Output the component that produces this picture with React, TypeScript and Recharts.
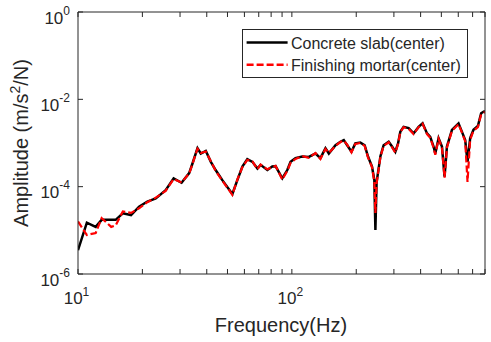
import { LineChart, Line, XAxis, YAxis, Legend, Label } from 'recharts';

// frequency (Hz) of the traced points
const freq = [
  10, 11, 12.1, 12.9, 14.3, 15, 16.2, 17.7, 19.3, 21.1, 23.1, 25.7, 28, 30.5, 33.1, 34.3,
  36.2, 37.5, 39.6, 41.8, 44, 47.3, 52.7, 55.6, 58.7, 61.9, 65.4, 69, 71.4, 76.8, 81, 83.9,
  90.2, 95.2, 98.6, 104, 111.8, 120, 129, 136, 143.6, 148.9, 160, 168.7, 174.9, 181.4, 190,
  198, 209, 219, 227, 237, 243, 245.8, 249, 259.5, 268.6, 283.6, 294, 304.6, 313.7, 321.5,
  333, 351.6, 370.8, 391.4, 408.5, 428.5, 443.6, 459.8, 468.4, 485.3, 503.3, 517.6, 531,
  560.5, 601.6, 623.7, 646.4, 662.7, 682, 706.6, 741, 767.4, 786.5, 800,
];

// Concrete slab(center)
const slab = [
  3.5e-6, 1.5e-5, 1.2e-5, 1.74e-5, 1.74e-5, 1.74e-5, 2.45e-5, 2.24e-5, 3.47e-5, 4.57e-5, 5.37e-5, 8.3e-5, 1.55e-4, 1.23e-4, 2.04e-4, 3.39e-4,
  7.6e-4, 5.75e-4, 6.6e-4, 3.7e-4, 2.4e-4, 1.41e-4, 6.8e-5, 1.41e-4, 2.9e-4, 4.27e-4, 3.7e-4, 2.6e-4, 3.16e-4, 2.4e-4, 2.9e-4, 2.95e-4,
  1.55e-4, 2.4e-4, 3.7e-4, 4.5e-4, 4.9e-4, 4.8e-4, 5.75e-4, 4.5e-4, 7.6e-4, 5.75e-4, 8.9e-4, 1.07e-3, 1.17e-3, 8.9e-4, 6.3e-4,
  9.8e-4, 1.02e-3, 8.9e-4, 4.9e-4, 2.9e-4, 1.41e-4, 1.02e-5, 1.26e-4, 5e-4, 8.9e-4, 1.07e-3, 8.3e-4, 6.3e-4, 9.8e-4, 1.82e-3,
  2.34e-3, 2.19e-3, 1.66e-3, 2.34e-3, 2.82e-3, 1.66e-3, 1.38e-3, 8.3e-4, 5.75e-4, 1.29e-3, 8.3e-4, 1.7e-4, 8.3e-4,
  2.0e-3, 2.82e-3, 1.82e-3, 1.17e-3, 3.7e-4, 1.29e-3, 2.0e-3, 2.45e-3, 4.8e-3, 5.2e-3, 5.4e-3,
];

// Finishing mortar(center)
const mortar = [
  1.6e-5, 7.8e-6, 8.7e-6, 1.9e-5, 1.2e-5, 1.3e-5, 2.7e-5, 2.5e-5, 3.2e-5, 4.4e-5, 5.6e-5, 8.0e-5, 1.5e-4, 1.25e-4, 2.0e-4, 3.3e-4,
  7.4e-4, 5.9e-4, 6.4e-4, 3.8e-4, 2.3e-4, 1.38e-4, 6.5e-5, 1.45e-4, 2.8e-4, 4.1e-4, 3.8e-4, 2.5e-4, 3.2e-4, 2.5e-4, 2.8e-4, 3.0e-4,
  1.45e-4, 2.3e-4, 3.5e-4, 4.3e-4, 5.0e-4, 4.6e-4, 5.9e-4, 4.3e-4, 7.3e-4, 5.9e-4, 8.6e-4, 1.05e-3, 1.13e-3, 9.2e-4, 6.1e-4,
  9.5e-4, 1.0e-3, 8.6e-4, 4.7e-4, 2.8e-4, 1.3e-4, 2.5e-5, 1.2e-4, 4.8e-4, 8.6e-4, 1.04e-3, 8.0e-4, 6.0e-4, 9.5e-4, 1.78e-3,
  2.3e-3, 2.1e-3, 1.6e-3, 2.3e-3, 2.75e-3, 1.6e-3, 1.32e-3, 7.8e-4, 5.4e-4, 1.25e-3, 7.8e-4, 1.6e-4, 7.9e-4,
  1.9e-3, 2.7e-3, 1.75e-3, 1.1e-3, 1.29e-4, 1.2e-3, 1.9e-3, 2.3e-3, 4.5e-3, 4.9e-3, 5.1e-3,
];

const xTicks = [10, 20, 30, 40, 50, 60, 70, 80, 90, 100, 200, 300, 400, 500, 600, 700, 800];
const xMajor = [10, 100];
const yTicks = [1e-6, 1e-4, 1e-2, 1];

const data = freq.map((f, i) => ({ f, slab: slab[i], mortar: mortar[i] }));

const AXIS = '#262626';
const FONT = '"Liberation Sans", Arial, Helvetica, sans-serif';

const XTickBottom = ({ x, y, payload }: any) => {
  const v = payload.value;
  const major = xMajor.includes(v);
  return (
    <g>
      <line x1={x} x2={x} y1={y} y2={y - 5} stroke={AXIS} />
      {major && (
        <text x={x - 1.5} y={y + 29.5} textAnchor="middle" fontSize={17} fill={AXIS} fontFamily={FONT}>
          10<tspan dy={-7.5} fontSize={12}>{Math.round(Math.log10(v))}</tspan>
        </text>
      )}
    </g>
  );
};

const XTickTop = ({ x, y }: any) => <line x1={x} x2={x} y1={y} y2={y + 5} stroke={AXIS} />;

const YTickLeft = ({ x, y, payload }: any) => (
  <g>
    <line x1={x} x2={x + 5} y1={y} y2={y} stroke={AXIS} />
    <text x={x - 8} y={y + 11.5} textAnchor="end" fontSize={17} fill={AXIS} fontFamily={FONT}>
      10<tspan dy={-9} fontSize={12}>{Math.round(Math.log10(payload.value))}</tspan>
    </text>
  </g>
);

const YTickRight = ({ x, y }: any) => <line x1={x} x2={x - 5} y1={y} y2={y} stroke={AXIS} />;

const LegendBox = () => (
  <svg width={226} height={49} style={{ display: 'block' }}>
    <rect x={0.5} y={0.5} width={225} height={48} fill="#fff" stroke={AXIS} strokeWidth={1} />
    <line x1={4.6} x2={45.6} y1={13.4} y2={13.4} stroke="#000" strokeWidth={2.5} />
    <text x={49} y={20} fontSize={16} fill={AXIS} fontFamily={FONT}>Concrete slab(center)</text>
    <line x1={4.6} x2={45.6} y1={35.7} y2={35.7} stroke="#ff0000" strokeWidth={2.5} strokeDasharray="7 3" />
    <text x={49} y={42.4} fontSize={16} fill={AXIS} fontFamily={FONT}>Finishing mortar(center)</text>
  </svg>
);

export default function App() {
  return (
    <div style={{ position: 'absolute', left: 0, top: 0, background: '#fff' }}>
      <LineChart width={491} height={342} data={data} margin={{ top: 11, right: 5, bottom: 0, left: 0 }}>
        <XAxis
          dataKey="f"
          type="number"
          scale="log"
          domain={[10, 800]}
          allowDataOverflow
          ticks={xTicks}
          interval={0}
          tickSize={0}
          tickMargin={0}
          height={68}
          stroke={AXIS}
          tick={<XTickBottom />}
        >
          <Label
            content={() => (
              <text x={281} y={331.5} textAnchor="middle" fontSize={20} fill={AXIS} fontFamily={FONT}>
                Frequency(Hz)
              </text>
            )}
          />
        </XAxis>
        <XAxis
          xAxisId="top"
          dataKey="f"
          orientation="top"
          type="number"
          scale="log"
          domain={[10, 800]}
          allowDataOverflow
          ticks={xTicks}
          interval={0}
          tickSize={0}
          tickMargin={0}
          height={1}
          stroke={AXIS}
          tick={<XTickTop />}
        />
        <YAxis
          type="number"
          scale="log"
          domain={[1e-6, 1]}
          allowDataOverflow
          ticks={yTicks}
          interval={0}
          tickSize={0}
          tickMargin={0}
          width={78}
          stroke={AXIS}
          tick={<YTickLeft />}
        >
          <Label
            content={() => (
              <text
                x={28}
                y={143}
                transform="rotate(-90 28 143)"
                textAnchor="middle"
                fontSize={20}
                fill={AXIS}
                fontFamily={FONT}
              >
                Amplitude (m/s<tspan dy={-8} fontSize={14}>2</tspan>
                <tspan dy={8}>/N)</tspan>
              </text>
            )}
          />
        </YAxis>
        <YAxis
          yAxisId="right"
          orientation="right"
          type="number"
          scale="log"
          domain={[1e-6, 1]}
          allowDataOverflow
          ticks={yTicks}
          interval={0}
          tickSize={0}
          tickMargin={0}
          width={1}
          stroke={AXIS}
          tick={<YTickRight />}
        />
        <Legend
          layout="horizontal"
          verticalAlign="middle"
          align="center"
          wrapperStyle={{ position: 'absolute', left: 242, top: 29, width: 226, height: 49 }}
          content={() => <LegendBox />}
        />
        {/* invisible copy that binds the top and right axes so they render */}
        <Line
          dataKey="slab"
          xAxisId="top"
          yAxisId="right"
          stroke="none"
          dot={false}
          legendType="none"
          isAnimationActive={false}
        />
        <Line
          dataKey="slab"
          type="linear"
          stroke="#000000"
          strokeWidth={2.5}
          dot={false}
          isAnimationActive={false}
        />
        <Line
          dataKey="mortar"
          type="linear"
          stroke="#ff0000"
          strokeWidth={2.2}
          strokeDasharray="7 3"
          dot={false}
          isAnimationActive={false}
        />
      </LineChart>
    </div>
  );
}
